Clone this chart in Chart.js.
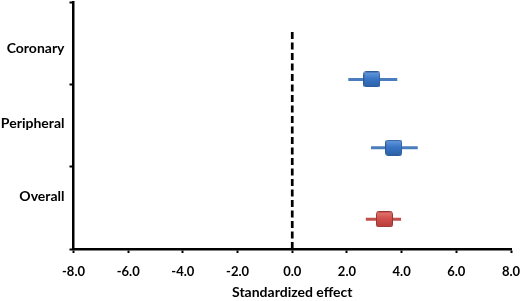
<!DOCTYPE html>
<html>
<head>
<meta charset="utf-8">
<script src="https://cdn.jsdelivr.net/npm/chart.js@4.4.1/dist/chart.umd.min.js"></script>
<style>
html,body{margin:0;padding:0;background:#fff;}
#c{display:block;}
</style>
</head>
<body>
<canvas id="c" width="520" height="301"></canvas>
<script>
// ---- data ----
const categories = ['Coronary', 'Peripheral', 'Overall'];
const labelPos = [2.44, 1.52, 0.64];      // y-position of category labels
const rowPos = [2.06, 1.23, 0.36];        // y-position of each estimate
const effect = [2.91, 3.71, 3.37];        // standardized effect
const lower = [2.05, 2.88, 2.69];         // lower CI
const upper = [3.84, 4.59, 3.98];         // upper CI
const rowColor = ['blue', 'blue', 'red'];
const xTicks = [-8, -6, -4, -2, 0, 2, 4, 6, 8];
const yTickMarks = [0, 1, 2, 3];
const refLine = [0, 2.65];                // dashed zero line y-extent
const xTitle = 'Standardized effect';

// ---- styles ----
const palette = {
  blue: {top: '#6b9ce0', mid: '#3a76c6', bot: '#2a5fa6', border: '#2d5b96', line: '#4a7dbd'},
  red:  {top: '#e47a77', mid: '#d2504d', bot: '#b33c39', border: '#9a3533', line: '#c0504d'}
};
function boxImage(p) {
  const w = 17, h = 16;
  const cv = document.createElement('canvas');
  cv.width = w; cv.height = h;
  const g = cv.getContext('2d');
  const gr = g.createLinearGradient(0, 0, 0, h);
  gr.addColorStop(0, p.top);
  gr.addColorStop(0.45, p.mid);
  gr.addColorStop(1, p.bot);
  g.fillStyle = gr;
  g.beginPath();
  if (g.roundRect) g.roundRect(0.5, 0.5, w - 1, h - 1, 2); else g.rect(0.5, 0.5, w - 1, h - 1);
  g.fill();
  g.strokeStyle = p.border;
  g.lineWidth = 1;
  g.stroke();
  return cv;
}

const datasets = [];
// dashed reference line
datasets.push({
  type: 'line',
  data: [{x: 0, y: refLine[0]}, {x: 0, y: refLine[1]}],
  borderColor: '#000',
  borderWidth: 2.7,
  borderDash: [7, 3.5],
  pointRadius: 0,
  order: 3
});
// whiskers
categories.forEach((c, i) => {
  datasets.push({
    type: 'line',
    data: [{x: lower[i], y: rowPos[i]}, {x: upper[i], y: rowPos[i]}],
    borderColor: palette[rowColor[i]].line,
    borderWidth: 3,
    pointRadius: 0,
    order: 2
  });
});
// boxes
datasets.push({
  type: 'scatter',
  data: categories.map((c, i) => ({x: effect[i], y: rowPos[i]})),
  pointStyle: categories.map((c, i) => boxImage(palette[rowColor[i]])),
  pointRadius: 9,
  order: 0
});

const fontFamily = 'Lato, "Open Sans", sans-serif';
const yTickValues = yTickMarks.concat(labelPos).sort((a, b) => a - b);

new Chart(document.getElementById('c'), {
  type: 'scatter',
  data: {datasets},
  options: {
    responsive: false,
    animation: false,
    events: [],
    layout: {autoPadding: false, padding: {left: 0, right: 9, top: 2, bottom: 0}},
    plugins: {legend: {display: false}, tooltip: {enabled: false}},
    scales: {
      x: {
        type: 'linear',
        min: -8, max: 8,
        afterBuildTicks: (axis) => { axis.ticks = xTicks.map(v => ({value: v})); },
        afterFit: (axis) => { axis.height = 52; axis.paddingLeft = 0; axis.paddingRight = 0; },
        border: {display: true, color: '#000', width: 2.5},
        grid: {display: true, drawOnChartArea: false, drawTicks: true, tickLength: 4, tickWidth: 2, tickColor: '#000'},
        ticks: {
          color: '#000', padding: 11,
          font: {family: fontFamily, size: 13, weight: 'bold'},
          maxRotation: 0, autoSkip: false,
          callback: (v) => Number(v).toFixed(1)
        },
        title: {
          display: true, text: xTitle, color: '#000',
          font: {family: fontFamily, size: 14, weight: 'bold'},
          padding: {top: 0, bottom: 0}
        }
      },
      y: {
        type: 'linear',
        min: 0, max: 3,
        afterBuildTicks: (axis) => { axis.ticks = yTickValues.map(v => ({value: v})); },
        afterFit: (axis) => { axis.width = 73.5; axis.paddingTop = 0; axis.paddingBottom = 0; },
        border: {display: true, color: '#000', width: 2.5},
        grid: {
          display: true, drawOnChartArea: false, drawTicks: true, tickLength: 4, tickWidth: 2,
          tickColor: (ctx) => (ctx.tick && yTickMarks.includes(ctx.tick.value)) ? '#000' : 'rgba(0,0,0,0)'
        },
        ticks: {
          color: '#000', padding: 5, autoSkip: false,
          font: (ctx) => ({family: fontFamily, weight: 'bold',
            size: (ctx.tick && labelPos.includes(ctx.tick.value)) ? 14 : 1}),
          callback: (v) => { const i = labelPos.indexOf(v); return i >= 0 ? categories[i] : ''; }
        }
      }
    }
  }
});
</script>
</body>
</html>
